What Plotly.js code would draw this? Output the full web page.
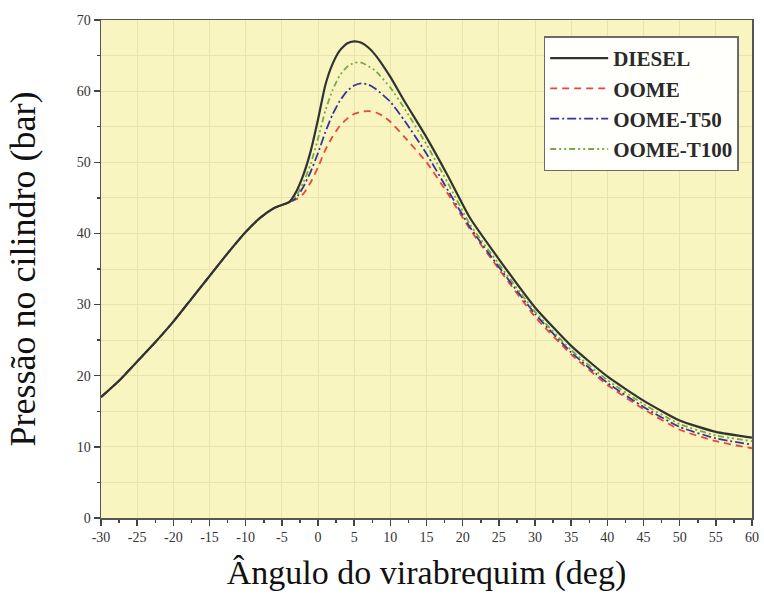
<!DOCTYPE html>
<html>
<head>
<meta charset="utf-8">
<script src="https://cdn.plot.ly/plotly-3.0.1.min.js"></script>
<style>body{margin:0;background:#fff}#chart{width:764px;height:603px}</style>
</head>
<body>
<div id="chart"></div>
<script>
// Shared compression part (all fuels overlap)
var xCommon = [-30, -27.5, -25, -22.5, -20, -17.5, -15, -12.5, -10, -8, -6, -5, -4];
var yCommon = [17, 19.3, 22, 24.7, 27.6, 30.8, 34, 37.2, 40.2, 42.2, 43.6, 44, 44.4];

var xDiesel = [-3, -2, -1, 0, 1, 2, 3, 4, 5, 6, 7, 8, 10, 12, 15, 18, 21, 25, 30, 35, 40, 45, 50, 55, 60];
var yDiesel = [45.9, 48.3, 51.6, 56, 60.8, 63.8, 65.7, 66.7, 67, 66.8, 66.1, 65, 62, 58.5, 53.5, 48, 42.2, 36.4, 29.6, 24.2, 19.9, 16.5, 13.7, 12.1, 11.3];

var xOome = [-3, -2, -1, 0, 1, 2, 3, 4, 5, 6, 7, 8, 9, 10, 12, 15, 18, 21, 25, 30, 35, 40, 45, 50, 55, 60];
var yOome = [44.8, 45.6, 47.2, 49.3, 51.7, 53.6, 55.1, 56.1, 56.8, 57.1, 57.2, 57, 56.5, 55.7, 53.5, 50, 45.5, 40.6, 35, 28.3, 23, 18.7, 15.3, 12.4, 10.8, 9.8];

var xT50 = [-3, -2, -1, 0, 1, 2, 3, 4, 5, 6, 7, 8, 10, 12, 15, 18, 21, 25, 30, 35, 40, 45, 50, 55, 60];
var yT50 = [45, 46.6, 48.7, 51.3, 54.2, 56.7, 58.6, 60, 60.8, 61.1, 60.9, 60.3, 58.5, 55.8, 51.2, 46, 40.9, 35.3, 28.7, 23.3, 19, 15.6, 12.8, 11.2, 10.3];

var xT100 = [-3, -2, -1, 0, 1, 2, 3, 4, 5, 6, 7, 8, 10, 12, 15, 18, 21, 25, 30, 35, 40, 45, 50, 55, 60];
var yT100 = [45.3, 47.2, 49.8, 53.3, 57.2, 60.1, 62.2, 63.4, 64, 64, 63.5, 62.8, 60.5, 57.5, 52.5, 47, 41.3, 35.7, 29, 23.6, 19.4, 16, 13.2, 11.6, 10.8];

var seriesNames = ["DIESEL", "OOME", "OOME-T50", "OOME-T100"];
var xTickVals = [-30, -25, -20, -15, -10, -5, 0, 5, 10, 15, 20, 25, 30, 35, 40, 45, 50, 55, 60];
var xTickText = ["-30", "-25", "-20", "-15", "-10", "-5", "0", "5", "10", "15", "20", "25", "30", "35", "40", "45", "50", "55", "60"];

var styles = [
  {color: "#2f3430", dash: "solid", width: 2.2},
  {color: "#e8473c", dash: "7px,5px", width: 1.8},
  {color: "#34349a", dash: "9px,3px,2px,3px", width: 1.8},
  {color: "#79a84a", dash: "6px,3px,2px,3px,2px,3px", width: 1.8}
];
var xs = [xDiesel, xOome, xT50, xT100];
var ys = [yDiesel, yOome, yT50, yT100];

var traces = [];
for (var i = 0; i < 4; i++) {
  traces.push({
    type: "scatter", mode: "lines", name: seriesNames[i],
    x: xCommon.concat(xs[i]), y: yCommon.concat(ys[i]),
    line: {color: styles[i].color, dash: styles[i].dash, width: styles[i].width, shape: "spline", smoothing: 0.5},
    legendgroup: "g" + i
  });
}
var order = [1, 2, 3, 0];
var data = order.map(function (k) { return traces[k]; });
data.forEach(function (t, idx) { t.legendrank = order[idx] + 1; });

var serif = "Liberation Serif";
var layout = {
  width: 764, height: 603,
  margin: {l: 101, r: 12, t: 20, b: 85},
  paper_bgcolor: "#ffffff",
  plot_bgcolor: "#f9f5c0",
  showlegend: true,
  legend: {
    x: 0.68, y: 0.967, xanchor: "left", yanchor: "top",
    bgcolor: "#fffffb", bordercolor: "#6a6a6a", borderwidth: 1.5,
    font: {family: serif, size: 21, color: "#2a2a2a", weight: "bold"},
    traceorder: "grouped", tracegroupgap: 0, itemwidth: 58
  },
  xaxis: {
    range: [-30, 60], tickmode: "array", tickvals: xTickVals, ticktext: xTickText,
    ticks: "outside", ticklen: 6, tickwidth: 1.5, tickcolor: "#444",
    showline: true, linecolor: "#555", linewidth: 1.5, mirror: true,
    showgrid: true, gridcolor: "#e9e3ad", gridwidth: 1, zeroline: false,
    minor: {dtick: 2.5, ticks: "outside", ticklen: 3, tickcolor: "#444", showgrid: false},
    tickfont: {family: serif, size: 14, color: "#333"},
    title: {text: "Ângulo do virabrequim (deg)", font: {family: serif, size: 34, color: "#111"}, standoff: 16}
  },
  yaxis: {
    range: [0, 70], dtick: 10,
    ticks: "outside", ticklen: 6, tickwidth: 1.5, tickcolor: "#444",
    showline: true, linecolor: "#555", linewidth: 1.5, mirror: true,
    showgrid: true, gridcolor: "#e9e3ad", gridwidth: 1, zeroline: false,
    minor: {dtick: 5, ticks: "outside", ticklen: 3, tickcolor: "#444", showgrid: true, gridcolor: "#e9e3ad"},
    tickfont: {family: serif, size: 14, color: "#333"},
    title: {text: "Pressão no cilindro (bar)", font: {family: serif, size: 36, color: "#111"}, standoff: 30}
  }
};
Plotly.newPlot("chart", data, layout, {displayModeBar: false, staticPlot: true});
</script>
</body>
</html>
